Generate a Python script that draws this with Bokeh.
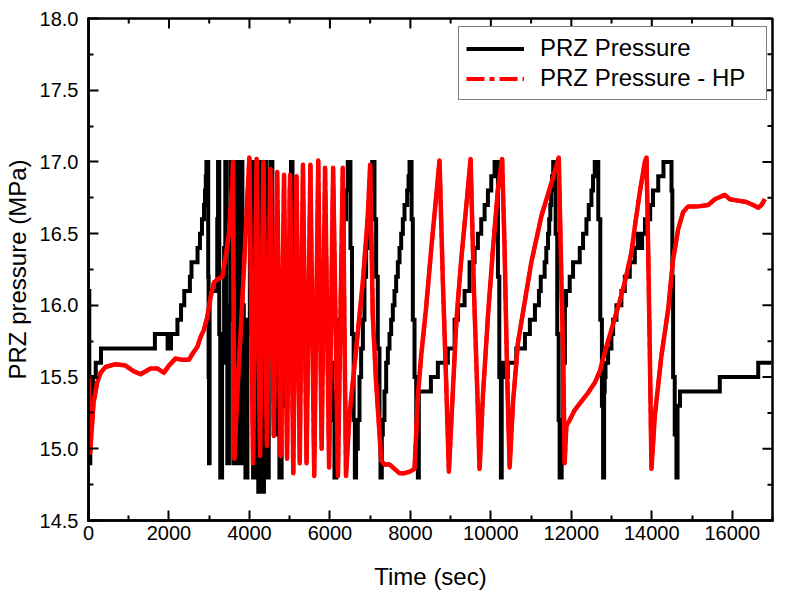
import math
from bokeh.plotting import figure
from bokeh.models import Range1d, FixedTicker, PrintfTickFormatter, Legend, LegendItem
from bokeh.embed import file_html
from bokeh.resources import INLINE

# ---------------- data ----------------
x_ticks = [0, 2000, 4000, 6000, 8000, 10000, 12000, 14000, 16000]
x_minor = [1000, 3000, 5000, 7000, 9000, 11000, 13000, 15000, 17000]
y_ticks = [14.5, 15.0, 15.5, 16.0, 16.5, 17.0, 17.5, 18.0]
y_minor = [14.75, 15.25, 15.75, 16.25, 16.75, 17.25, 17.75]
x_limits = (0, 17000)
y_limits = (14.5, 18.0)

# PRZ Pressure (quantised, drawn as steps)
black_time = [
    0, 20, 45, 70, 110, 180, 310, 1650, 1966, 2050, 2210, 2300, 2380, 2520, 2560,
    2710, 2770, 2820, 2870, 2895, 2915, 2930, 2975, 2985, 2995, 3010, 3200, 3220,
    3250, 3275, 3320, 3370, 3400, 3425, 3450, 3490, 3530, 3565, 3600, 3630, 3660,
    3695, 3730, 3760, 3790, 3825, 3860, 3900, 3950, 4010, 4050, 4090, 4120, 4150,
    4185, 4220, 4250, 4280, 4315, 4340, 4360, 4380, 4410, 4440, 4480, 4520, 4570,
    4630, 4700, 4745, 4800, 4870, 4940, 5000, 5033, 5070, 5110, 5700, 6000, 6060,
    6113, 6160, 6220, 6280, 6340, 6400, 6444, 6510, 6550, 6590, 6620, 6650, 6693,
    6735, 6776, 6820, 6859, 6900, 6942, 6990, 7030, 7050, 7108, 7149, 7190, 7232,
    7257, 7290, 7315, 7356, 7398, 7440, 7481, 7522, 7564, 7605, 7646, 7688, 7730,
    7771, 7813, 7854, 7920, 7954, 7979, 8030, 8061, 8103, 8145, 8186, 8210, 8510,
    8683, 8932, 9099, 9182, 9347, 9471, 9596, 9678, 9761, 9845, 9927, 10010, 10093,
    10176, 10210, 10250, 10270, 10340, 10420, 10632, 10847, 10970, 11096, 11195,
    11240, 11337, 11378, 11420, 11450, 11478, 11500, 11520, 11550, 11610, 11650,
    11685, 11710, 11760, 11800, 11840, 11870, 11960, 12043, 12210, 12292, 12375,
    12433, 12500, 12540, 12582, 12670, 12720, 12760, 12790, 12815, 12830, 12850,
    12914, 12997, 13039, 13122, 13245, 13329, 13453, 13578, 13650, 13700, 13760,
    13830, 13960, 14030, 14160, 14290, 14490, 14510, 14530, 14570, 14612, 14640,
    14700, 15690, 16645, 16970,
]
black_pressure = [
    16.1, 14.9, 15.2, 15.4, 15.5, 15.6, 15.7, 15.8, 15.7, 15.8, 15.9, 16.0, 16.1, 16.2, 16.3,
    16.4, 16.5, 16.6, 16.7, 16.8, 16.9, 17.0, 16.2, 15.5, 14.9, 16.1, 16.6, 17.0,
    15.8, 14.8, 15.6, 16.4, 17.0, 16.0, 14.9, 16.0, 17.0, 15.9, 14.9, 16.0, 17.0,
    15.9, 14.9, 16.0, 17.0, 16.0, 14.9, 14.8, 15.9, 17.0, 15.8, 14.8, 16.0, 17.0,
    15.8, 14.7, 15.9, 17.0, 15.8, 14.7, 15.9, 17.0, 15.9, 14.8, 15.9, 17.0, 16.4,
    15.7, 15.1, 14.8, 15.3, 15.8, 16.3, 16.8, 17.0, 16.4, 16.0, 15.8, 15.6, 15.2,
    14.8, 15.4, 15.9, 16.3, 16.6, 16.8, 17.0, 16.4, 15.8, 15.2, 14.8, 15.0, 15.2,
    15.5, 15.7, 15.9, 16.2, 16.4, 16.6, 16.8, 16.9, 17.0, 16.6, 16.2, 15.7, 15.2,
    14.8, 15.1, 15.2, 15.4, 15.6, 15.7, 15.8, 15.9, 16.0, 16.1, 16.2, 16.3, 16.4,
    16.5, 16.6, 16.7, 16.8, 16.9, 17.0, 16.6, 15.9, 15.5, 15.0, 14.8, 15.4, 15.5,
    15.6, 15.7, 15.9, 16.0, 16.1, 16.3, 16.4, 16.5, 16.6, 16.7, 16.8, 16.9, 17.0,
    16.2, 15.5, 14.8, 15.6, 15.5, 15.6, 15.7, 15.8, 15.9, 16.0, 16.1,
    16.2, 16.3, 16.4, 16.5, 16.6, 16.7, 16.8, 16.9, 17.0, 16.5, 15.8,
    15.2, 14.8, 15.2, 15.6, 16.0, 16.1, 16.2, 16.3, 16.4, 16.5, 16.6,
    16.7, 16.8, 16.9, 17.0, 16.6, 15.9, 15.3, 14.8, 15.4, 15.5, 15.6,
    15.7, 15.8, 15.9, 16.0, 16.1, 16.2, 16.3, 16.4, 16.5, 16.4, 16.5,
    16.6, 16.7, 16.8, 16.9, 17.0, 16.8, 16.2, 15.5, 15.1, 14.8, 15.3,
    15.4, 15.5, 15.6, 15.6,
]

# PRZ Pressure - HP (continuous)
red_time = [
    0, 40, 125, 215, 300, 423, 672, 920, 1128, 1294, 1543, 1709, 1874, 1998, 2164,
    2330, 2496, 2579, 2704, 2787, 2870, 2953, 3036, 3118, 3242, 3325, 3408, 3491,
    3575, 3590, 3625, 3700, 3800, 3870, 3998, 4090, 4180, 4265, 4347, 4435, 4521,
    4605, 4690, 4775, 4860, 4935, 5010, 5090, 5170, 5250, 5330, 5420, 5515, 5610,
    5710, 5795, 5880, 5980, 6080, 6200, 6320, 6400, 6485, 6651, 6817, 6942, 7000,
    7066, 7149, 7232, 7273, 7356, 7480, 7605, 7730, 7854, 7979, 8103, 8145, 8186,
    8269, 8393, 8517, 8641, 8724, 8808, 8890, 8957, 9057, 9140, 9264, 9389, 9497,
    9580, 9663, 9720, 9803, 9927, 10052, 10176, 10280, 10342, 10383, 10425, 10467,
    10550, 10674, 10840, 11006, 11254, 11503, 11688, 11737, 11793, 11835, 11876,
    11960, 12085, 12250, 12416, 12582, 12707, 12831, 12997, 13163, 13329, 13495,
    13579, 13703, 13827, 13868, 13910, 13950, 13992, 14075, 14240, 14406, 14530,
    14655, 14779, 14904, 15152, 15401, 15567, 15816, 15940, 16147, 16354, 16520,
    16645, 16728, 16811,
]
red_pressure = [
    15.51, 14.97, 15.32, 15.46, 15.53, 15.57, 15.59, 15.58, 15.54, 15.52, 15.56, 15.56, 15.53, 15.58, 15.63,
    15.62, 15.62, 15.66, 15.71, 15.78, 15.83, 15.92, 16.06, 16.16, 16.19, 16.20, 16.34, 16.50,
    16.85, 17.00, 14.93, 15.40, 15.90, 16.30, 17.03, 14.90, 17.02, 14.95, 17.00, 15.02, 16.95,
    15.09, 16.93, 14.95, 16.91, 14.93, 16.91, 14.83, 16.90, 14.90, 16.98, 14.90, 16.98, 14.81,
    17.01, 15.00, 16.96, 14.87, 16.96, 14.81, 16.96, 14.81, 15.23, 15.69, 16.16, 16.62, 16.98,
    15.92, 15.46, 15.11, 14.92, 14.89, 14.89, 14.86, 14.83, 14.83, 14.84, 14.86, 15.11, 15.37,
    15.65, 15.99, 16.39, 16.76, 17.01, 16.16, 15.46, 14.84, 15.41, 15.88, 16.32, 16.69, 17.02,
    16.10, 15.40, 14.86, 15.37, 15.92, 16.39, 16.81, 17.02, 16.39, 15.81, 15.30, 14.87,
    15.32, 15.74, 16.02, 16.30, 16.62, 16.85, 17.03, 16.39, 15.69, 14.90, 15.16,
    15.20, 15.27, 15.33, 15.39, 15.46, 15.54, 15.67, 15.83, 15.99, 16.16, 16.37,
    16.55, 16.79, 17.00, 17.03, 16.39, 15.69, 14.86, 15.23, 15.65, 15.97, 16.32,
    16.53, 16.65, 16.69, 16.69, 16.70, 16.74, 16.77, 16.74, 16.73, 16.72, 16.70,
    16.68, 16.70, 16.74,
]

FONT = "Liberation Sans"

p = figure(frame_width=684, frame_height=502, output_backend="svg", toolbar_location=None,
           x_range=Range1d(*x_limits), y_range=Range1d(*y_limits),
           min_border_left=83, min_border_right=10, min_border_top=18, min_border_bottom=80)
p.grid.visible = False
p.outline_line_color = "black"
p.outline_line_width = 2.5
p.background_fill_color = "white"
p.border_fill_color = "white"

rb = p.step(black_time, black_pressure, mode="after", line_color="black",
            line_width=4, line_join="miter")
# dash-dot styled copy of the HP series (used for the legend sample), covered by the solid trace
rl = p.line(red_time, red_pressure, line_color="#FF0000", line_width=4, line_dash="18 5 5 5")
rr = p.line(red_time, red_pressure, line_color="#FF0000", line_width=4.5, line_join="round")

# ticks on the top and right frame edges (pointing inward)
p.ray(x=x_ticks, y=y_limits[1], length=10, length_units="screen", angle=-math.pi / 2,
      line_color="black", line_width=2)
p.ray(x=x_minor, y=y_limits[1], length=5, length_units="screen", angle=-math.pi / 2,
      line_color="black", line_width=2)
p.ray(x=x_limits[1], y=y_ticks, length=10, length_units="screen", angle=math.pi,
      line_color="black", line_width=2)
p.ray(x=x_limits[1], y=y_minor, length=5, length_units="screen", angle=math.pi,
      line_color="black", line_width=2)


def style(ax):
    ax.axis_line_width = 2.5
    ax.axis_line_cap = "square"
    ax.major_tick_line_width = 2
    ax.minor_tick_line_width = 2
    ax.major_tick_in = 10
    ax.major_tick_out = 0
    ax.minor_tick_in = 5
    ax.minor_tick_out = 0
    ax.major_label_text_font = FONT
    ax.major_label_text_color = "black"
    ax.major_label_text_font_size = "20px"
    ax.axis_label_text_font = FONT
    ax.axis_label_text_font_size = "24px"
    ax.axis_label_text_font_style = "normal"
    ax.axis_label_text_color = "black"


xa = p.xaxis[0]
ya = p.yaxis[0]
xa.ticker = FixedTicker(ticks=x_ticks, minor_ticks=x_minor)
ya.ticker = FixedTicker(ticks=y_ticks, minor_ticks=y_minor)
xa.formatter = PrintfTickFormatter(format="%d")
ya.formatter = PrintfTickFormatter(format="%.1f")
style(xa)
style(ya)
xa.axis_label = "Time (sec)"
ya.axis_label = "PRZ pressure (MPa)"
xa.major_label_standoff = 5
xa.axis_label_standoff = 20
ya.major_label_standoff = 10
ya.axis_label_standoff = 6

legend = Legend(items=[LegendItem(label="PRZ Pressure", renderers=[rb]),
                       LegendItem(label="PRZ Pressure - HP", renderers=[rl])],
                location=(370, 420))
legend.margin = 0
legend.padding = 7
legend.spacing = 2
legend.glyph_width = 58
legend.glyph_height = 27
legend.label_height = 27
legend.label_width = 219
legend.label_standoff = 16
legend.label_text_font = FONT
legend.label_text_font_size = "24px"
legend.label_text_color = "black"
legend.border_line_color = "black"
legend.border_line_width = 1.5
legend.background_fill_color = "white"
legend.background_fill_alpha = 1.0
p.add_layout(legend)

open("out.html", "w").write(file_html(p, INLINE))
